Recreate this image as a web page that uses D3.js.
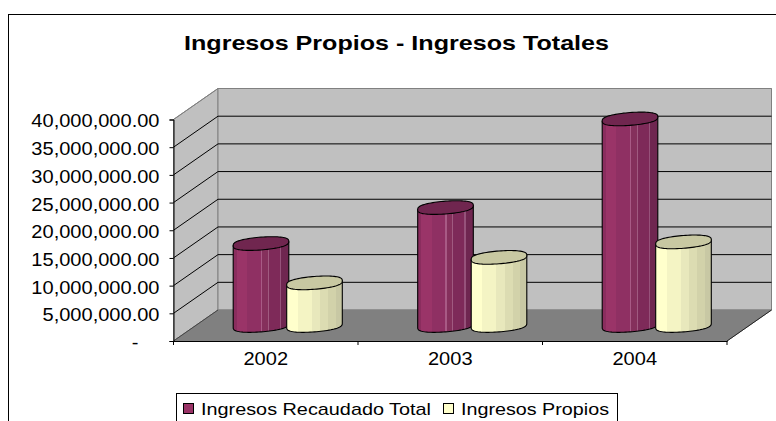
<!DOCTYPE html>
<html><head><meta charset="utf-8">
<script src="https://cdn.jsdelivr.net/npm/d3@7"></script>
<style>html,body{margin:0;padding:0;background:#fff;overflow:hidden}svg{display:block}text{font-family:"Liberation Sans",Arial,sans-serif;fill:#000}</style>
</head><body><svg id="c" width="776" height="421"></svg>
<script>
const years = ["2002","2003","2004"];
const seriesNames = ["Ingresos Recaudado Total","Ingresos Propios"];
const totalIncome = [14800000,21300000,37300000];
const ownIncome = [7700000,12300000,15100000];
const yTicks = [0,5000000,10000000,15000000,20000000,25000000,30000000,35000000,40000000];
const title = "Ingresos Propios - Ingresos Totales";

const svg = d3.select("#c");
const L=173.5,R=727,B=341,T=119.5,dx=44.5,dy=31;
const x = d3.scaleBand().domain(years).range([L,R]);
const y = d3.scaleLinear().domain([0,40000000]).range([B,T]);
const fmt = v => v===0 ? "-" : d3.format(",.2f")(v);
const stretch = (sel,k) => sel.each(function(){ this.setAttribute("textLength", this.getComputedTextLength()*k); this.setAttribute("lengthAdjust","spacingAndGlyphs"); });

svg.append("rect").attr("x",8.5).attr("y",14.5).attr("width",800).attr("height",440).attr("fill","#fff").attr("stroke","#000").attr("stroke-width",1);
svg.append("text").text(title).attr("x",396.5).attr("y",50).attr("text-anchor","middle").attr("font-weight","bold").attr("font-size",21)
  .call(s=>s.each(function(){this.setAttribute("textLength",425);this.setAttribute("lengthAdjust","spacingAndGlyphs");}));

// walls & floor
const poly=(pts,fill,stroke)=>svg.append("polygon").attr("points",pts.map(p=>p.join(",")).join(" ")).attr("fill",fill).attr("stroke",stroke).attr("stroke-width",1);
poly([[L,B],[L,T],[L+dx,T-dy],[L+dx,B-dy]],"#c0c0c0","#808080");
poly([[L+dx,T-dy],[R+dx,T-dy],[R+dx,B-dy],[L+dx,B-dy]],"#c0c0c0","#808080");
poly([[L,B],[L+dx,B-dy],[R+dx,B-dy],[R,B]],"#808080","#808080");
svg.append("path").attr("d",`M${R},${B}L${R+dx},${B-dy}`).attr("stroke","#222").attr("fill","none");
svg.append("path").attr("d",`M${L},${B}L${L+dx},${B-dy}`).attr("stroke","#444").attr("fill","none");
// gridlines
yTicks.forEach(v=>{
  if(v>0) svg.append("path").attr("d",`M${L},${y(v)}L${L+dx},${y(v)-dy}L${R+dx},${y(v)-dy}`).attr("fill","none").attr("stroke",v===40000000?"#808080":"#000");
});
// axes
const yAxis=d3.axisLeft(y).tickValues(yTicks).tickFormat(fmt).tickSize(4).tickPadding(10);
const gy=svg.append("g").attr("transform",`translate(${L},0)`).call(yAxis);
gy.selectAll("text").attr("font-size",17.5).attr("fill","#000").attr("dy","0.38em").call(stretch,1.145);
gy.selectAll("text").attr("y",0.8);
gy.selectAll("text").filter(d=>d===0).attr("x",-35);
gy.selectAll("line,path").attr("stroke","#000");
const xAxis=d3.axisBottom(x).tickSizeInner(0).tickSizeOuter(0).tickPadding(12);
const gx=svg.append("g").attr("transform",`translate(0,${B})`).call(xAxis);
gx.selectAll("text").attr("font-size",17.5).attr("fill","#000").call(stretch,1.145);
gx.selectAll("path").attr("stroke","#000");
[L,...years.map(d=>x(d)+x.bandwidth())].forEach(px=>svg.append("line").attr("x1",px).attr("x2",px).attr("y1",B).attr("y2",B+4).attr("stroke","#000"));

// faceted side shading
const defs=svg.append("defs");
const grad=(id,bands)=>{const g=defs.append("linearGradient").attr("id",id);bands.forEach(([a,b,c])=>{g.append("stop").attr("offset",a).attr("stop-color",c);g.append("stop").attr("offset",b).attr("stop-color",c);});};
grad("gp",[[0,.06,"#8a2d5e"],[.06,.25,"#9a3468"],[.25,.5,"#8f3063"],[.5,.52,"#a85a85"],[.52,.62,"#85305c"],[.62,.64,"#a05a80"],[.64,.84,"#7e2a59"],[.84,.86,"#96527a"],[.86,1,"#6f2650"]]);
grad("gy",[[0,.2,"#ffffcc"],[.2,.45,"#f4f4c4"],[.45,.6,"#e8e8bc"],[.6,.75,"#dcdcb2"],[.75,.88,"#d2d2aa"],[.88,1,"#c8c8a4"]]);

const rx=27.8, ry=6.4, tilt=0.075, pw=0.72;
const arc=(cx,cy,sign,a0,a1)=>d3.range(0,41).map(i=>{
  const t=a0+(a1-a0)*i/40, px=rx*Math.cos(t);
  return [cx+px, cy+sign*ry*Math.pow(Math.abs(Math.sin(t)),pw)-tilt*px];
});
const line=d3.line();
function cyl(cx,v,side,top){
  const yb=y(0)-dy/2, yt=y(v)-dy/2;
  const lower=arc(cx,yb,1,Math.PI,0);
  svg.append("path").attr("d",line([[cx-rx,yt+tilt*rx],...lower,[cx+rx,yt-tilt*rx]])+"Z")
    .attr("fill",`url(#${side})`).attr("stroke","#000").attr("stroke-width",1.1).attr("stroke-linejoin","round");
  svg.append("path").attr("d",line([...arc(cx,yt,-1,0,Math.PI),...arc(cx,yt,1,Math.PI,0)])+"Z")
    .attr("fill",top).attr("stroke","#000").attr("stroke-width",1.1).attr("stroke-linejoin","round");
}
years.forEach((yr,i)=>{
  const c=x(yr)+x.bandwidth()/2+dx/2;
  cyl(c-27,totalIncome[i],"gp","#70264f");
  cyl(c+26.5,ownIncome[i],"gy","#c8c8a2");
});

// legend
svg.append("rect").attr("x",176.5).attr("y",393.5).attr("width",441).attr("height",40).attr("fill","#fff").attr("stroke","#000");
[["#993366",seriesNames[0],183.5,201,230],["#ffffcc",seriesNames[1],443.5,461,148]].forEach(([c,t,sx,tx,w])=>{
  svg.append("rect").attr("x",sx).attr("y",403.5).attr("width",10).attr("height",10).attr("fill",c).attr("stroke","#000");
  svg.append("text").text(t).attr("x",tx).attr("y",414.5).attr("font-size",17).attr("textLength",w).attr("lengthAdjust","spacingAndGlyphs");
});
</script></body></html>
